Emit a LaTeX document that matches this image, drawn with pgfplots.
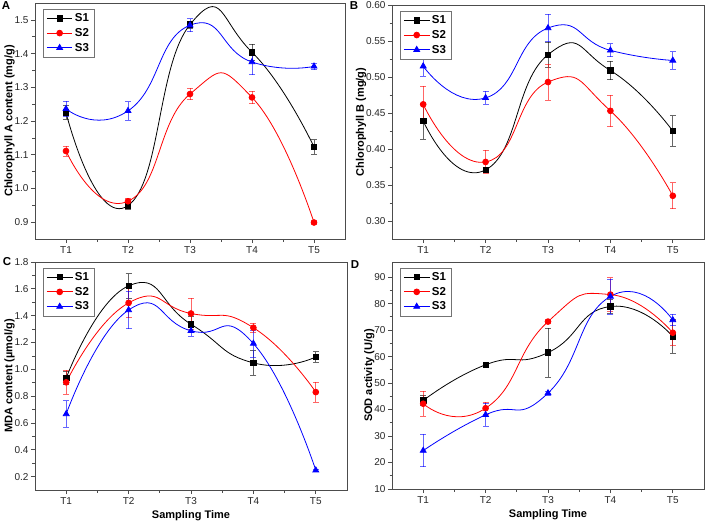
\documentclass[border=0pt]{standalone}
\usepackage{fontspec}
\setmainfont{Liberation Sans}
\usepackage{pgfplots}
\pgfplotsset{compat=1.18}

\pgfplotsset{
  panel/.style={
    scale only axis, anchor=north west,
    xmin=0.5, xmax=5.5,
    xtick={1,2,3,4,5}, xticklabels={T1,T2,T3,T4,T5},
    minor x tick num=1, minor y tick num=1,
    tick align=outside, xtick pos=bottom, ytick pos=left,
    major tick length=4pt, minor tick length=2.5pt,
    axis line style={black!70, line width=0.9pt},
    tick style={black!70, line width=0.7pt},
    /pgf/number format/assume math mode=true,
    tick label style={font=\fontsize{10}{12}\selectfont, black!85},
    yticklabel style={xshift=1pt},
    label style={font=\fontsize{11}{13}\selectfont\bfseries},
    ylabel shift=-7pt,
    xlabel shift=-1pt,
    legend style={at={(0.025,0.975)}, anchor=north west, draw=black!55,
      font=\fontsize{11.5}{13}\selectfont\bfseries, row sep=1.2pt,
      inner xsep=3.5pt, inner ysep=2.5pt},
    legend image code/.code={\draw[mark repeat=2,mark phase=2,##1]
      plot coordinates {(0cm,0cm) (0.45cm,0cm) (0.9cm,0cm)};},
  },
  sa/.style={black, line width=0.8pt, mark=square*, mark size=2.7pt, smooth, tension=0.95,
    error bars/.cd, y dir=both, y explicit,
    error bar style={line width=0.8pt, opacity=0.6},
    error mark options={rotate=90, mark size=3pt, line width=0.8pt, opacity=0.6}},
  sb/.style={red, line width=0.8pt, mark=*, mark size=2.9pt, smooth, tension=0.95,
    error bars/.cd, y dir=both, y explicit,
    error bar style={line width=0.8pt, opacity=0.6},
    error mark options={rotate=90, mark size=3pt, line width=0.8pt, opacity=0.6}},
  sc/.style={blue, line width=0.8pt, mark=triangle*, mark size=3.4pt, smooth, tension=0.95,
    error bars/.cd, y dir=both, y explicit,
    error bar style={line width=0.8pt, opacity=0.6},
    error mark options={rotate=90, mark size=3pt, line width=0.8pt, opacity=0.6}},
}

\begin{document}
\begin{tikzpicture}
\useasboundingbox (0pt,0pt) rectangle (708pt,-527pt);

% A
\begin{axis}[panel, at={(35pt,-3pt)}, width=310pt, height=236pt,
  ymin=0.85, ymax=1.55, ytick={0.9,1.0,...,1.5},
  yticklabel style={/pgf/number format/.cd, fixed, fixed zerofill, precision=1},
  ylabel={Chlorophyll A content (mg/g)}]
\addplot[sa] coordinates {(1,1.225) +- (0,0.020) (2,0.949) +- (0,0.010) (3,1.486) +- (0,0.010) (4,1.404) +- (0,0.024) (5,1.123) +- (0,0.022)};
\addplot[sb] coordinates {(1,1.111) +- (0,0.015) (2,0.962) +- (0,0.008) (3,1.280) +- (0,0.017) (4,1.270) +- (0,0.019) (5,0.899) +- (0,0.006)};
\addplot[sc] coordinates {(1,1.236) +- (0,0.022) (2,1.230) +- (0,0.027) (3,1.484) +- (0,0.019) (4,1.375) +- (0,0.038) (5,1.362) +- (0,0.010)};
\legend{S1,S2,S3}
\end{axis}

% B
\begin{axis}[panel, at={(392pt,-5pt)}, width=312pt, height=234pt,
  ymin=0.275, ymax=0.60, ytick={0.30,0.35,...,0.61},
  yticklabel style={/pgf/number format/.cd, fixed, fixed zerofill, precision=2},
  ylabel={Chlorophyll B (mg/g)}]
\addplot[sa] coordinates {(1,0.439) +- (0,0.025) (2,0.371) +- (0,0.004) (3,0.531) +- (0,0.017) (4,0.509) +- (0,0.013) (5,0.425) +- (0,0.021)};
\addplot[sb] coordinates {(1,0.462) +- (0,0.025) (2,0.382) +- (0,0.016) (3,0.493) +- (0,0.025) (4,0.453) +- (0,0.022) (5,0.335) +- (0,0.018)};
\addplot[sc] coordinates {(1,0.515) +- (0,0.014) (2,0.471) +- (0,0.009) (3,0.568) +- (0,0.019) (4,0.537) +- (0,0.009) (5,0.523) +- (0,0.012)};
\legend{S1,S2,S3}
\end{axis}

% C
\begin{axis}[panel, at={(35pt,-262pt)}, width=312pt, height=228pt,
  ymin=0.1, ymax=1.8, ytick={0.2,0.4,...,1.81},
  yticklabel style={/pgf/number format/.cd, fixed, fixed zerofill, precision=1},
  ylabel={MDA content (\textmu mol/g)}, xlabel={Sampling Time}]
\addplot[sa] coordinates {(1,0.935) +- (0,0.05) (2,1.622) +- (0,0.09) (3,1.336) +- (0,0.06) (4,1.048) +- (0,0.09) (5,1.092) +- (0,0.04)};
\addplot[sb] coordinates {(1,0.903) +- (0,0.09) (2,1.495) +- (0,0.11) (3,1.416) +- (0,0.115) (4,1.310) +- (0,0.035) (5,0.830) +- (0,0.075)};
\addplot[sc] coordinates {(1,0.667) +- (0,0.10) (2,1.442) +- (0,0.14) (3,1.287) +- (0,0.04) (4,1.192) +- (0,0.10) (5,0.247) +- (0,0.01)};
\legend{S1,S2,S3}
\end{axis}

% D
\begin{axis}[panel, at={(392pt,-262pt)}, width=312pt, height=227pt,
  ymin=10, ymax=95.7, ytick={10,20,...,90},
  ylabel={SOD activity (U/g)}, xlabel={Sampling Time}]
\addplot[sa] coordinates {(1,43.4) +- (0,2.0) (2,56.9) +- (0,0.5) (3,61.5) +- (0,9.3) (4,78.9) +- (0,2.5) (5,67.6) +- (0,6.3)};
\addplot[sb] coordinates {(1,42.2) +- (0,4.7) (2,40.5) +- (0,2.2) (3,73.2) +- (0,0.8) (4,83.4) +- (0,6.3) (5,69.0) +- (0,4.8)};
\addplot[sc] coordinates {(1,24.5) +- (0,6.1) (2,38.0) +- (0,4.4) (3,46.2) +- (0,0.8) (4,82.7) +- (0,6.6) (5,73.8) +- (0,2.2)};
\legend{S1,S2,S3}
\end{axis}

\node[font=\fontsize{11.5}{13}\selectfont\bfseries] at (6pt,-6pt) {A};
\node[font=\fontsize{11.5}{13}\selectfont\bfseries] at (354pt,-6pt) {B};
\node[font=\fontsize{11.5}{13}\selectfont\bfseries] at (7pt,-262pt) {C};
\node[font=\fontsize{11.5}{13}\selectfont\bfseries] at (355pt,-265pt) {D};
\end{tikzpicture}
\end{document}
